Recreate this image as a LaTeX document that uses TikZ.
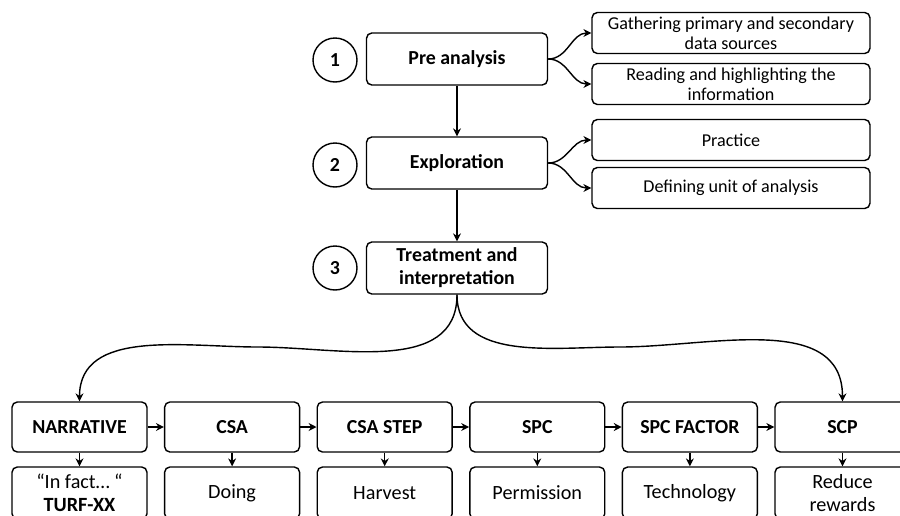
\documentclass[tikz,border=0pt]{standalone}
\usepackage{fontspec}
\setmainfont{Carlito}
\usepackage{tikz}
\usetikzlibrary{positioning,arrows.meta,calc}
\tikzset{
  stage/.style={rectangle, rounded corners=3pt, draw=black, fill=white,
                line width=0.8pt, minimum height=10.4mm, minimum width=36.2mm,
                align=center, font=\fontsize{11.3}{13}\selectfont\bfseries},
  sub/.style={rectangle, rounded corners=3pt, draw=black, fill=white,
              line width=0.8pt, minimum height=8.2mm, minimum width=55.6mm,
              align=center, inner sep=1pt, font=\fontsize{10.3}{11.5}\selectfont},
  num/.style={circle, draw=black, line width=0.8pt, minimum size=8.8mm,
              inner sep=0pt, font=\fontsize{11.3}{13}\selectfont\bfseries},
  cat/.style={rectangle, rounded corners=3pt, draw=black, fill=white,
              line width=0.8pt, minimum height=10mm, minimum width=27mm,
              align=center, font=\fontsize{11.3}{13}\selectfont\bfseries},
  leaf/.style={rectangle, rounded corners=3pt, draw=black, fill=white,
               line width=0.8pt, minimum height=10.4mm, minimum width=27mm,
               align=center, inner sep=1pt, font=\fontsize{11.5}{13}\selectfont},
  flow/.style={-{Stealth[length=4.5pt,width=4.5pt]}, draw=black, line width=0.8pt},
}

\begin{document}
\begin{tikzpicture}[x=0.02cm,y=-0.02cm]
  \clip (0,0) rectangle (900,515);
  \useasboundingbox (0,0) rectangle (900,515);

  % main stages
  \node[stage] (pre) at (457,59){Pre analysis};
  \node[stage] (exp) at (457,163){Exploration};
  \node[stage] (tri) at (457,268){Treatment and\\ interpretation};
  \node[num] (n1) at (335,60){1};
  \node[num] (n2) at (335,165){2};
  \node[num] (n3) at (335,268){3};

  % sub tasks
  \node[sub] (s1) at (731,33){Gathering primary and secondary\\ data sources};
  \node[sub] (s2) at (731,84){Reading and highlighting the\\ information};
  \node[sub] (s3) at (731,140){Practice};
  \node[sub] (s4) at (731,188){Defining unit of analysis};

  % categories and examples
  \foreach \nm/\lb/\ex [count=\i from 0] in {
      c1/NARRATIVE/{``In fact\dots\ ``\\ \textbf{TURF-XX}},
      c2/CSA/Doing, c3/CSA STEP/Harvest, c4/SPC/Permission,
      c5/SPC FACTOR/Technology, c6/SCP/{Reduce\\ rewards}}{
    \node[cat] (\nm) at (79.5+152.6*\i,427){\lb};
    \node[leaf] (\nm x) at (79.5+152.6*\i,493){\ex};
    \draw[flow] (\nm) -- (\nm x);
  }
  \foreach \a/\b in {c1/c2,c2/c3,c3/c4,c4/c5,c5/c6}
    \draw[flow] (\a) -- (\b);

  % stage flow
  \draw[flow] (pre) -- (exp);
  \draw[flow] (exp) -- (tri);
  \draw[flow] (pre.east) to[out=0,in=180] (s1.west);
  \draw[flow] (pre.east) to[out=0,in=180] (s2.west);
  \draw[flow] (exp.east) to[out=0,in=180] (s3.west);
  \draw[flow] (exp.east) to[out=0,in=180] (s4.west);

  % split to the categories
  \coordinate (lmid) at (258,347);
  \coordinate (rmid) at (620,347);
  \draw[flow] (tri.south) to[out=-90,in=0] (lmid) to[out=180,in=90] (c1.north);
  \draw[flow] (tri.south) to[out=-90,in=180] (rmid) to[out=0,in=90] (c6.north);
\end{tikzpicture}
\end{document}
